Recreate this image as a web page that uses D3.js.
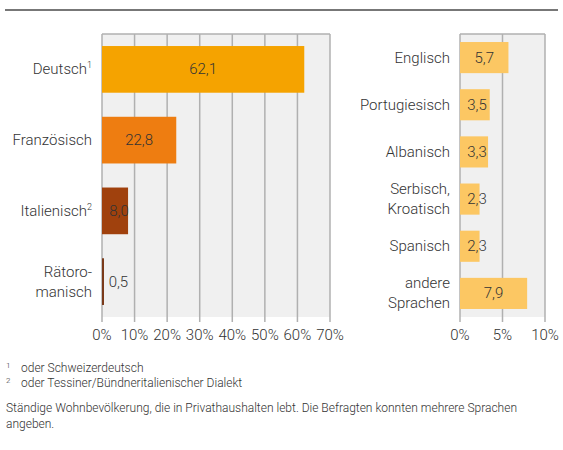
<!DOCTYPE html>
<html><head><meta charset="utf-8">
<script src="https://cdn.jsdelivr.net/npm/d3@7"></script>
<style>body{margin:0;background:#fff}text{font-family:Roboto,sans-serif;font-weight:300;fill:#333}</style>
</head><body><svg id="c" width="563" height="450"></svg>
<script>
// Landessprachen
const leftCats = ["Deutsch", "Französisch", "Italienisch", "Rätoromanisch"];
const leftVals = [62.1, 22.8, 8.0, 0.5];
const leftColors = ["#f5a300", "#ee7d11", "#a0410d", "#7a3a1a"];
const leftTicks = [0, 10, 20, 30, 40, 50, 60, 70];
// Nichtlandessprachen
const rightCats = ["Englisch", "Portugiesisch", "Albanisch", "Serbisch, Kroatisch", "Spanisch", "andere Sprachen"];
const rightVals = [5.7, 3.5, 3.3, 2.3, 2.3, 7.9];
const rightTicks = [0, 5, 10];

const svg = d3.select("#c");
const fmt = v => v.toFixed(1).replace(".", ",");

svg.append("line").attr("x1", 5).attr("x2", 558).attr("y1", 10).attr("y2", 10)
  .attr("stroke", "#777").attr("stroke-width", 2);

function panel(cats, vals, colors, ticks, x0, x1, max, labels) {
  const top = 34, bottom = 317;
  const x = d3.scaleLinear().domain([0, max]).range([x0, x1]);
  const y = d3.scaleBand().domain(cats).range([top, bottom]).paddingInner(0.34).paddingOuter(0.17);
  svg.append("rect").attr("x", x0).attr("y", top).attr("width", x1 - x0).attr("height", bottom - top).attr("fill", "#f0f0f0");
  svg.append("g").selectAll("line").data(ticks).join("line")
    .attr("x1", d => x(d)).attr("x2", d => x(d)).attr("y1", top).attr("y2", bottom + 5)
    .attr("stroke", "#b0b0b0").attr("stroke-width", 1.5);
  svg.append("line").attr("x1", x0).attr("x2", x1).attr("y1", top).attr("y2", top).attr("stroke", "#b0b0b0").attr("stroke-width", 1.5);
  svg.append("g").selectAll("text").data(ticks).join("text")
    .attr("x", d => x(d)).attr("y", 340).attr("text-anchor", "middle").attr("font-size", 15)
    .text(d => d + "%");
  cats.forEach((c, i) => {
    const yy = y(c), h = y.bandwidth();
    const w = x(vals[i]) - x0;
    svg.append("rect").attr("x", x0).attr("y", yy).attr("width", Math.max(w, 2)).attr("height", h)
      .attr("fill", colors[i]);
    const inside = w > 12;
    svg.append("text").attr("x", inside ? Math.max(x0 + w / 2, x0 + 17) : x(vals[i]) + 5)
      .attr("y", yy + h / 2 + 5).attr("font-size", 15).attr("text-anchor", inside ? "middle" : "start")
      .text(fmt(vals[i]));
    const lines = labels[i];
    const t = svg.append("text").attr("text-anchor", "end").attr("font-size", 15)
      .attr("y", yy + h / 2 + 5 - (lines.length - 1) * 10);
    lines.forEach((l, k) => {
      t.append("tspan").attr("x", x0 - 10).attr("dy", k ? 20 : 0).text(l[0]);
      if (l[1]) t.append("tspan").attr("dy", -6).attr("font-size", 9).text(l[1]);
    });
  });
}

panel(leftCats, leftVals, leftColors, leftTicks, 102, 330, 70,
  [[["Deutsch", "1"]], [["Französisch"]], [["Italienisch", "2"]], [["Rätoro-"], ["manisch"]]]);
panel(rightCats, rightVals, rightCats.map(() => "#fcc763"), rightTicks, 460, 545, 10,
  [[["Englisch"]], [["Portugiesisch"]], [["Albanisch"]], [["Serbisch,"], ["Kroatisch"]], [["Spanisch"]], [["andere"], ["Sprachen"]]]);

const notes = [["1", "oder Schweizerdeutsch", 372], ["2", "oder Tessiner/Bündneritalienischer Dialekt", 387]];
notes.forEach(n => {
  svg.append("text").attr("x", 6).attr("y", n[2] - 4).attr("font-size", 8).text(n[0]);
  svg.append("text").attr("x", 21).attr("y", n[2]).attr("font-size", 12).text(n[1]);
});
svg.append("text").attr("x", 6).attr("y", 412).attr("font-size", 12)
  .text("Ständige Wohnbevölkerung, die in Privathaushalten lebt. Die Befragten konnten mehrere Sprachen");
svg.append("text").attr("x", 6).attr("y", 428).attr("font-size", 12).text("angeben.");
</script></body></html>
